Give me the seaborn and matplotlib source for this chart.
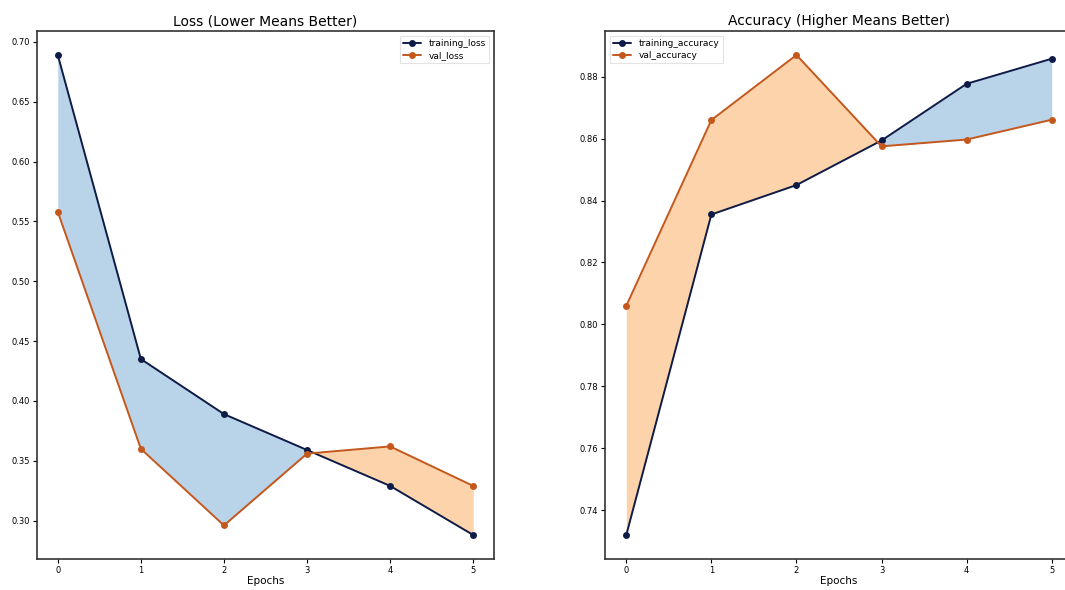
import matplotlib
matplotlib.use("Agg")
import matplotlib.pyplot as plt
import seaborn as sns
import numpy as np
import pandas as pd

epochs = [0, 1, 2, 3, 4, 5]
training_loss = [0.689, 0.435, 0.389, 0.359, 0.329, 0.288]
val_loss = [0.558, 0.360, 0.296, 0.356, 0.362, 0.329]
training_accuracy = [0.732, 0.8355, 0.845, 0.8594, 0.8777, 0.8858]
val_accuracy = [0.806, 0.866, 0.887, 0.8575, 0.8597, 0.8661]

loss_ticks = [0.30, 0.35, 0.40, 0.45, 0.50, 0.55, 0.60, 0.65, 0.70]
acc_ticks = [0.74, 0.76, 0.78, 0.80, 0.82, 0.84, 0.86, 0.88]

TRAIN_C = "#0e1b47"
VAL_C = "#c4581c"
FILL_BLUE = "#b9d3e9"
FILL_ORANGE = "#fdd3ab"

sns.set_style("ticks")
plt.rcParams['font.family'] = ['DejaVu Sans']
plt.rcParams.update({
    "text.color": "black",
    "axes.labelcolor": "black",
    "xtick.color": "black",
    "ytick.color": "black",
})

W, H = 1065, 590
fig = plt.figure(figsize=(W / 100, H / 100), dpi=100)
ax1 = fig.add_axes([37 / W, 31 / H, (494 - 37) / W, 528 / H])
ax2 = fig.add_axes([605 / W, 31 / H, (1073 - 605) / W, 528 / H])


def draw(ax, train, val, tname, vname, title, ticks, loc):
    x = np.array(epochs, dtype=float)
    t = np.array(train)
    v = np.array(val)
    ax.fill_between(x, t, v, where=t >= v, interpolate=True, color=FILL_BLUE, linewidth=0)
    ax.fill_between(x, t, v, where=v >= t, interpolate=True, color=FILL_ORANGE, linewidth=0)
    df = pd.DataFrame({"Epochs": epochs, tname: train, vname: val}).melt(
        id_vars="Epochs", var_name="series", value_name="value")
    sns.lineplot(data=df, x="Epochs", y="value", hue="series", ax=ax,
                 palette={tname: TRAIN_C, vname: VAL_C}, marker="o",
                 markersize=5, markeredgewidth=0, linewidth=1.4)
    ax.set_title(title, fontsize=10, pad=4, color="black")
    ax.set_xlabel("Epochs", fontsize=7.5, labelpad=1)
    ax.set_ylabel("")
    ax.set_xticks(epochs)
    ax.set_yticks(ticks)
    ax.set_yticklabels([f"{v:.2f}" for v in ticks])
    ax.tick_params(labelsize=6, length=3, width=0.8, pad=2)
    ax.margins(x=0.05, y=0.05)
    for s in ax.spines.values():
        s.set_visible(True)
        s.set_color("#333333")
        s.set_linewidth(1.2)
    leg = ax.legend(loc=loc, fontsize=6.5, frameon=True, handlelength=2,
                    borderpad=0.4, labelspacing=0.3, fancybox=False)
    leg.get_frame().set_edgecolor("#dddddd")
    leg.get_frame().set_linewidth(0.8)


draw(ax1, training_loss, val_loss, "training_loss", "val_loss",
     "Loss (Lower Means Better)", loss_ticks, "upper right")
draw(ax2, training_accuracy, val_accuracy, "training_accuracy", "val_accuracy",
     "Accuracy (Higher Means Better)", acc_ticks, "upper left")

fig.savefig("out.png", dpi=100)
